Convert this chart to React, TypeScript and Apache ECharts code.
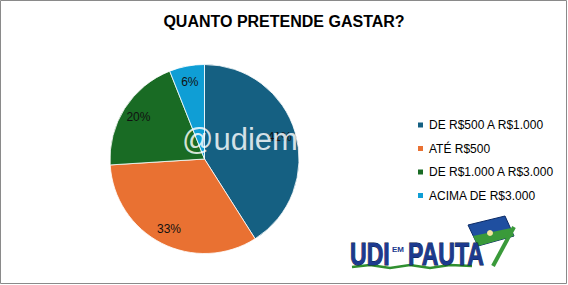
import React, { useEffect, useRef } from "react";
import * as echarts from "echarts";

const categories = ["DE R$500 A R$1.000", "ATÉ R$500", "DE R$1.000 A R$3.000", "ACIMA DE R$3.000"];
const values = [41, 33, 20, 6];
const colors = ["#156082", "#E97132", "#196B24", "#0F9ED5"];
const title = "QUANTO PRETENDE GASTAR?";
const watermark = "@udiem";

export default function App() {
  const ref = useRef<HTMLDivElement>(null);
  useEffect(() => {
    if (!ref.current) return;
    const chart = echarts.init(ref.current, null, { renderer: "svg" });
    const data = categories.map((name, i) => ({ name, value: values[i], itemStyle: { color: colors[i] } }));
    const labelData = categories.map((name, i) => ({ name, value: values[i] }));
    chart.setOption({
      animation: false,
      backgroundColor: "#ffffff",
      title: {
        text: title,
        left: "center",
        top: 8,
        textStyle: { fontFamily: "Liberation Sans", fontSize: 16, fontWeight: "bold", color: "#000" },
      },
      legend: {
        orient: "vertical",
        left: 411,
        top: 113,
        icon: "rect",
        itemWidth: 7,
        itemHeight: 7,
        itemGap: 9.5,
        itemTextGap: 3,
        data: categories,
        textStyle: { fontFamily: "Liberation Sans", fontSize: 12, color: "#000", lineHeight: 14 },
      },
      series: [
        {
          type: "pie",
          center: [204.5, 159],
          radius: [0, 94.5],
          startAngle: 90,
          clockwise: true,
          label: { show: false },
          labelLine: { show: false },
          itemStyle: { borderColor: "#ffffff", borderWidth: 0.8 },
          data,
          z: 2,
        },
        {
          type: "pie",
          center: [204.5, 159],
          radius: [56, 94.5],
          startAngle: 90,
          clockwise: true,
          silent: true,
          label: {
            show: true,
            position: "inside",
            formatter: "{c}%",
            fontFamily: "Liberation Sans",
            fontSize: 12,
            color: "#111",
          },
          labelLine: { show: false },
          itemStyle: { color: "rgba(0,0,0,0)" },
          data: labelData,
          z: 3,
        },
      ],
      graphic: [
        {
          type: "rect",
          shape: { x: 0.5, y: 0.5, width: 566, height: 283 },
          style: { fill: "none", stroke: "#8a8a8a", lineWidth: 1 },
          z: 100,
        },
        {
          type: "text",
          x: 182,
          y: 139,
          z: 100,
          style: {
            text: watermark,
            fontFamily: "Liberation Sans",
            fontSize: 31,
            fill: "rgba(255,255,255,0.82)",
            verticalAlign: "middle",
            align: "left",
          },
        },
        {
          type: "group",
          z: 100,
          children: [
            {
              type: "polyline",
              shape: { points: [[352, 267], [370, 265], [390, 268], [410, 265], [430, 268], [450, 265], [472, 266]] },
              style: { stroke: "#2f8f2f", lineWidth: 2.5, fill: "none" },
            },
            {
              type: "polygon",
              shape: { points: [[468, 225], [505, 216], [514, 236], [478, 246]] },
              style: { fill: "#1f4fa0", stroke: "#0b2a66", lineWidth: 1 },
            },
            {
              type: "polygon",
              shape: { points: [[473, 236], [511, 228], [514, 236], [478, 246]] },
              style: { fill: "#3a9a3a" },
            },
            {
              type: "circle",
              shape: { cx: 490, cy: 233, r: 3 },
              style: { fill: "#f5e6a0" },
            },
            {
              type: "line",
              shape: { x1: 514, y1: 227, x2: 493, y2: 266 },
              style: { stroke: "#3a9a3a", lineWidth: 4 },
            },
            {
              type: "text",
              x: 350,
              y: 254,
              scaleX: 0.72,
              style: {
                text: "UDI",
                fontFamily: "Liberation Sans",
                fontWeight: "bold",
                fontSize: 32,
                fill: "#1c3a8f",
                stroke: "#0a1840",
                lineWidth: 1,
                verticalAlign: "middle",
              },
            },
            {
              type: "text",
              x: 392,
              y: 249,
              style: {
                text: "EM",
                fontFamily: "Liberation Sans",
                fontWeight: "bold",
                fontSize: 8,
                fill: "#1c3a8f",
                verticalAlign: "middle",
              },
            },
            {
              type: "text",
              x: 408,
              y: 254,
              scaleX: 0.72,
              style: {
                text: "PAUTA",
                fontFamily: "Liberation Sans",
                fontWeight: "bold",
                fontSize: 32,
                fill: "#1c3a8f",
                stroke: "#0a1840",
                lineWidth: 1,
                verticalAlign: "middle",
              },
            },
          ],
        },
      ],
    });
    return () => chart.dispose();
  }, []);
  return <div ref={ref} style={{ position: "absolute", left: 0, top: 0, width: 568, height: 285 }} />;
}
